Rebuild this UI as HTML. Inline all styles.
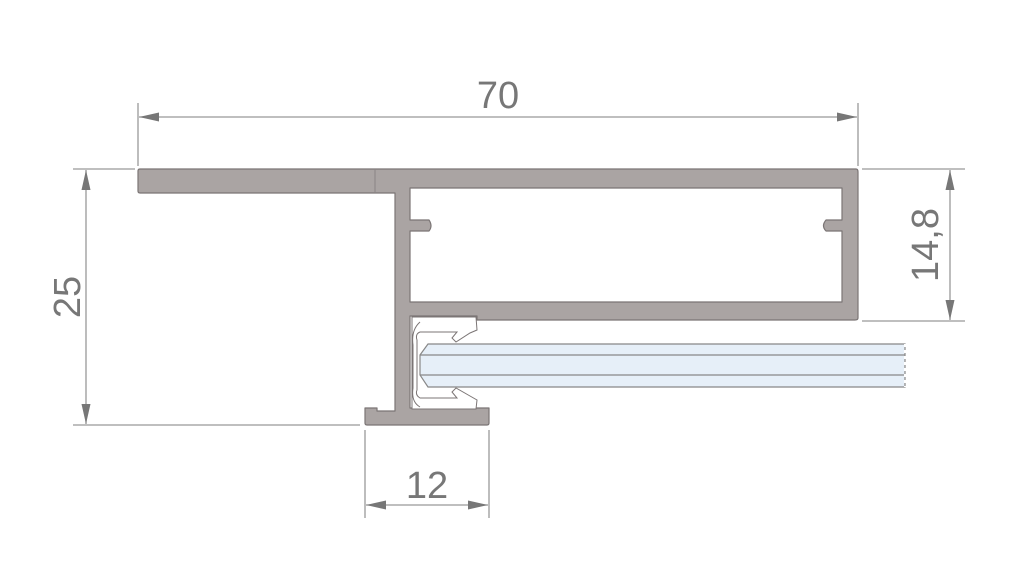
<!DOCTYPE html>
<html><head><meta charset="utf-8"><style>
html,body{margin:0;padding:0;background:#fff;width:1024px;height:576px;overflow:hidden}
svg{display:block}
text{font-family:"Liberation Sans",sans-serif;fill:#777;font-size:38px}
</style></head><body>
<svg width="1024" height="576" viewBox="0 0 1024 576">
<defs>
<marker id="a" markerWidth="20" markerHeight="10" refX="20" refY="5" orient="auto-start-reverse" markerUnits="userSpaceOnUse">
<path d="M20,5 L0,0.5 L0,9.5 Z" fill="#777"/></marker>
</defs>
<g stroke="#999" stroke-width="1.3" fill="none">
<line x1="138" y1="103" x2="138" y2="166"/>
<line x1="858" y1="103" x2="858" y2="166"/>
<line x1="139" y1="117" x2="857" y2="117" marker-start="url(#a)" marker-end="url(#a)"/>
<line x1="73" y1="169" x2="135" y2="169"/>
<line x1="73" y1="425" x2="360" y2="425"/>
<line x1="86" y1="170" x2="86" y2="424" marker-start="url(#a)" marker-end="url(#a)"/>
<line x1="862" y1="169" x2="965" y2="169"/>
<line x1="862" y1="321" x2="965" y2="321"/>
<line x1="950" y1="170" x2="950" y2="320" marker-start="url(#a)" marker-end="url(#a)"/>
<line x1="365" y1="430" x2="365" y2="518"/>
<line x1="489" y1="430" x2="489" y2="518"/>
<line x1="366" y1="505" x2="488" y2="505" marker-start="url(#a)" marker-end="url(#a)"/>
</g>
<text x="498" y="108" text-anchor="middle">70</text>
<text x="427" y="498" text-anchor="middle">12</text>
<text transform="translate(80,297) rotate(-90)" text-anchor="middle">25</text>
<text transform="translate(938,245) rotate(-90)" text-anchor="middle">14,8</text>
<g stroke="#888" stroke-width="1.2">
<path d="M428,344 L905,344 L905,387 L428,387 L420,375 L420,355 Z" fill="#e6eff8"/>
<line x1="420" y1="355" x2="905" y2="355"/>
<line x1="420" y1="375" x2="905" y2="375"/>
</g>
<line x1="905" y1="344" x2="905" y2="387" stroke="#fff" stroke-width="2" stroke-dasharray="3,3"/>
<path fill="#aaa4a3" stroke="#7b7575" stroke-width="1.2" stroke-linejoin="round" d="
M140,169 L856,169 Q858,169 858,172 L858,318 Q858,320 855,320 L477,320 L477,316 L410,316 L410,408 L489,408 L489,423 Q489,425 487,425 L367,425 Q365,425 365,423 L365,408 L377,408 L377,411 L395,411 L395,193 L140,193 Q138,193 138,191 L138,171 Q138,169 140,169 Z
M410,188 L410,220 L429,220 Q433,226 429,231 L410,231 L410,302 L842,302 L842,231 L826,231 Q821,226 826,220 L842,220 L842,188 Z" fill-rule="evenodd"/>
<line x1="375" y1="169" x2="375" y2="193" stroke="#8a8484" stroke-width="1"/>
<path fill="#fff" stroke="#7b7575" stroke-width="1" d="
M412,317 L476,317 L477,330 L470,333 L456,342 L452,338 L457,332 L420,332 Q415,334 417,340 L417,390 Q415,395 420,398 L457,398 L452,392 L456,388 L470,396 L477,400 L476,409 L412,409 Z"/>
<path fill="none" stroke="#7b7575" stroke-width="1" d="M420,322 Q411,330 413,345 L413,388 Q411,402 420,407"/>
</svg>
</body></html>
